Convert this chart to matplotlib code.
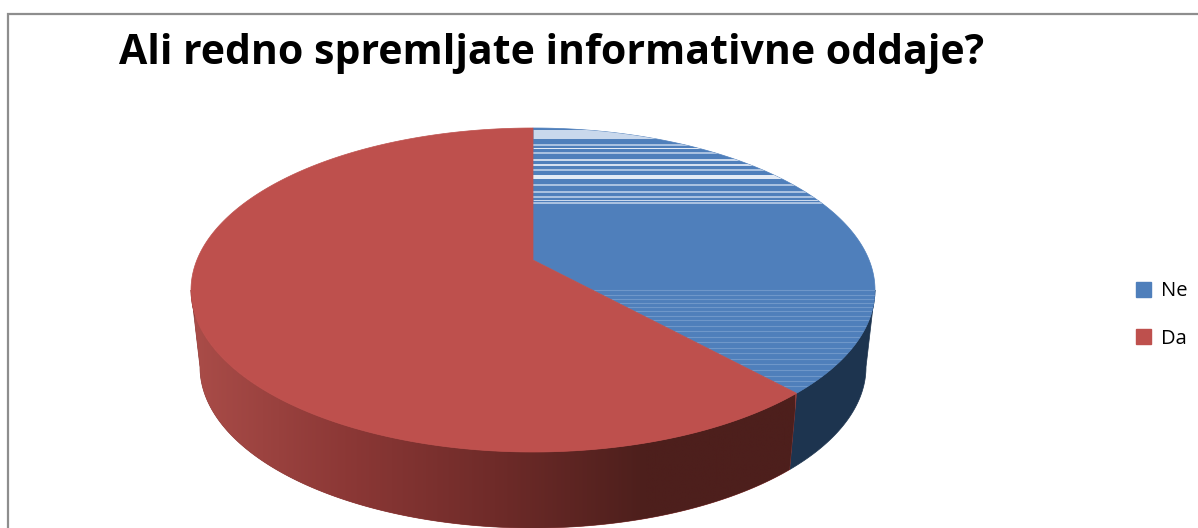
import numpy as np
import matplotlib
matplotlib.use('Agg')
import matplotlib.pyplot as plt
from matplotlib.patches import Patch
from matplotlib.colors import LinearSegmentedColormap

# chart values
labels = ['Ne', 'Da']
values = [36, 64]
title = 'Ali redno spremljate informativne oddaje?'

# texture bands seen in the blue slice: y position in pixels, height, colour
light_y = [131, 134, 137, 145, 148, 153, 160, 165, 170, 176, 178, 185, 192, 197, 200, 203]
light_h = [3, 3, 3, 2, 1, 2, 2, 2, 2, 2, 2, 2, 2, 2, 1, 2]
light_c = ['#c9d8ec', '#c9d8ec', '#c9d8ec', '#a9c1e0', '#e4ebf5', '#a9c1e0', '#c9d8ec', '#d5e0f0',
           '#a9c1e0', '#e4ebf5', '#e4ebf5', '#a9c1e0', '#a9c1e0', '#a9c1e0', '#c9d8ec', '#a9c1e0']
faint_y = [290, 295, 299, 303, 307, 311, 316, 320, 326, 331, 337, 342, 348, 353, 359, 364, 370, 376, 381, 386]

BLUE = '#4f7fbb'
RED = '#be504d'
NAVY = '#1d344f'

cx = 533
top_cy, top_a, top_b = 290, 342, 162
base_cy, base_a, base_b = 367, 333, 161
apex_y = 260


def top_pt(phi):
    return cx + top_a * np.sin(phi), top_cy - top_b * np.cos(phi)


def base_pt(phi):
    return cx + base_a * np.sin(phi), base_cy - base_b * np.cos(phi)


def wall(phi0, phi1):
    phi = np.linspace(phi0, phi1, 200)
    x1, y1 = top_pt(phi)
    x2, y2 = base_pt(phi[::-1])
    return np.r_[x1, x2], np.r_[y1, y2]


def face(phi0, phi1):
    phi = np.linspace(phi0, phi1, 300)
    x, y = top_pt(phi)
    return np.r_[cx, x], np.r_[apex_y, y]


fig = plt.figure(figsize=(11.98, 5.28), dpi=100)
ax = fig.add_axes([0, 0, 1, 1])
ax.set_xlim(0, 1198)
ax.set_ylim(528, 0)
ax.axis('off')

# slice angles come from the values, clockwise from 12 o'clock
edge = np.cumsum(values) / np.sum(values) * 2 * np.pi
phi_ne = edge[0]

# side walls
x, y = wall(np.pi / 2, phi_ne)
ax.fill(x, y, color=NAVY, lw=0.5)

x, y = wall(phi_ne, 3 * np.pi / 2)
wall_red = ax.fill(x, y, color='#8c3836', lw=0.5)[0]
cmap = LinearSegmentedColormap.from_list('wall', ['#a94c48', '#8c3836', '#6f2b29', '#4d1f1c', '#4d1f1c'])
grad = ax.imshow(np.linspace(0, 1, 256).reshape(1, -1), extent=(195, 795, 528, 280),
                 cmap=cmap, aspect='auto', zorder=2)
grad.set_clip_path(wall_red)
ax.set_xlim(0, 1198)
ax.set_ylim(528, 0)

# top face
x, y = face(0, phi_ne)
blue_face = ax.fill(x, y, color=BLUE, lw=0.5, zorder=3)[0]
x, y = face(phi_ne, 2 * np.pi)
ax.fill(x, y, color=RED, lw=0.5, zorder=5)

# scan-line streaks on the blue slice
for yy, h, c in zip(light_y, light_h, light_c):
    ln = ax.hlines(yy, cx, 875, color=c, lw=h * 0.72, zorder=4)
    ln.set_clip_path(blue_face)
for yy in faint_y:
    ln = ax.hlines(yy, cx, 875, color='#6f97c9', lw=0.8, zorder=4)
    ln.set_clip_path(blue_face)

# chart frame
ax.plot([8, 8, 1198], [528, 14, 14], color='#8e8e8e', lw=1.6, zorder=6, solid_joinstyle='miter')

ax.text(552, 54, title, fontsize=29.5, fontweight='bold', family='Open Sans',
        ha='center', va='center', color='black')

handles = [Patch(color=BLUE, label=labels[0]), Patch(color=RED, label=labels[1])]
ax.legend(handles=handles, loc='center left', bbox_to_anchor=(1118, 315),
          bbox_transform=ax.transData, frameon=False, handlelength=0.72, handleheight=0.72,
          handletextpad=0.5, labelspacing=1.35,
          prop={'family': 'Open Sans', 'size': 14.5})

fig.savefig('out.png', dpi=100)
